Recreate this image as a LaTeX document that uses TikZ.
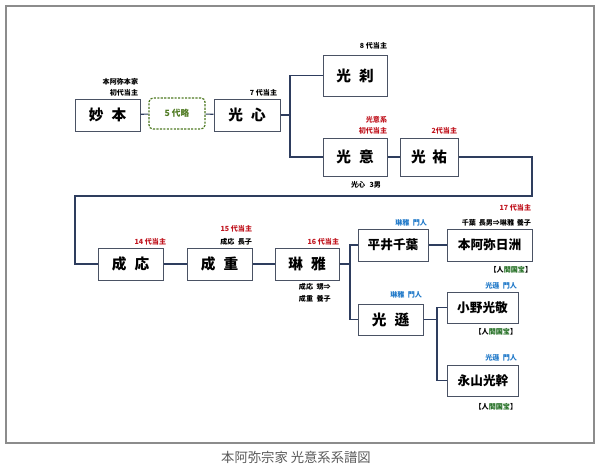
\documentclass[tikz,border=0pt]{standalone}
\usepackage{fontspec}
\newfontfamily\jp{Noto Sans CJK JP}
\usetikzlibrary{positioning}
\definecolor{framec}{HTML}{8C8C8C}
\definecolor{boxc}{HTML}{4A5264}
\definecolor{linkc}{HTML}{2E3D5E}
\definecolor{redc}{HTML}{C0141E}
\definecolor{bluec}{HTML}{1F78C8}
\definecolor{greenc}{HTML}{1E6B1E}
\definecolor{olivec}{HTML}{4F7A22}
\definecolor{capc}{HTML}{5A5A5A}
\newcommand{\kokuho}{【人\textcolor{greenc}{間国宝}】}

\begin{document}
\begin{tikzpicture}[x=0.75pt,y=0.75pt,yscale=-1,xscale=1,
    box/.style={draw=boxc, fill=white, line width=0.75pt, inner sep=0pt, font=\jp\bfseries\fontsize{11}{11}\selectfont},
    wide/.style={box, font=\jp\bfseries\fontsize{9.5}{10}\selectfont},
    lab/.style={inner sep=0.5pt, font=\jp\bfseries\fontsize{5.3}{6}\selectfont},
    link/.style={draw=linkc, line width=0.8pt}]
\useasboundingbox (0,0) rectangle (600,468);

%Shape: Frame
\draw [framec, line width=1.2pt] (6,6) rectangle (594,443);
% Text Node
\node (caption) at (296,457) [font=\jp\fontsize{10}{10}\selectfont, text=capc] {本阿弥宗家 光意系系譜図};

%Shape: Rectangle (top row)
\node (myohon) at (107.5,115) [box, minimum width=48.75pt, minimum height=24pt] {妙\hspace{0.55em}本};
\node (ryaku) at (177,113.5) [draw=olivec, dash pattern=on 1.6pt off 1pt, rounded corners=3pt, line width=0.9pt, minimum width=42pt, minimum height=23.25pt, inner sep=0pt, text=olivec, font=\jp\bfseries\fontsize{6.5}{7}\selectfont] {5 代略};
\node (koshin) at (247,115) [box, minimum width=49.5pt, minimum height=24pt] {光\hspace{0.55em}心};
\node (kosatsu) at (355,75.5) [box, minimum width=48pt, minimum height=30.75pt] {光\hspace{0.55em}刹};
\node (koi) at (355,157) [box, minimum width=48pt, minimum height=28.5pt] {光\hspace{0.55em}意};
\node (koyu) at (429,157) [box, minimum width=43.5pt, minimum height=28.5pt] {光\hspace{0.45em}祐};

%Shape: Rectangle (lower rows)
\node (seio) at (130.5,264) [box, minimum width=48.75pt, minimum height=24pt] {成\hspace{0.55em}応};
\node (seiju) at (219.5,264) [box, minimum width=48.75pt, minimum height=24pt] {成\hspace{0.55em}重};
\node (ringa) at (307,264) [box, minimum width=48pt, minimum height=24pt] {琳\hspace{0.55em}雅};
\node (hirai) at (393,245) [wide, minimum width=52.5pt, minimum height=24pt] {平井千葉};
\node (nisshu) at (489.5,245) [wide, minimum width=63.75pt, minimum height=24pt] {本阿弥日洲};
\node (kosen) at (390.5,319.5) [box, minimum width=48.75pt, minimum height=23.25pt] {光\hspace{0.55em}遜};
\node (ono) at (482.5,307.5) [wide, minimum width=53.25pt, minimum height=23.25pt] {小野光敬};
\node (nagayama) at (483,380.5) [wide, minimum width=53.25pt, minimum height=23.25pt] {永山光幹};

% Text Node
\node (l1) at (139,82) [lab, anchor=east] {本阿弥本家};
\node (l2) at (139,93) [lab, anchor=east] {初代当主};
\node (l3) at (278,93) [lab, anchor=east] {7 代当主};
\node (l4) at (388,46) [lab, anchor=east] {8 代当主};
\node (l5) at (388,120) [lab, anchor=east, text=redc] {光意系};
\node (l6) at (388,131) [lab, anchor=east, text=redc] {初代当主};
\node (l7) at (366,185) [lab] {光心\hspace{0.6em}3男};
\node (l8) at (458,131) [lab, anchor=east, text=redc] {2代当主};
\node (l9) at (167,242) [lab, anchor=east, text=redc] {14 代当主};
\node (l10) at (253,229) [lab, anchor=east, text=redc] {15 代当主};
\node (l11) at (253,242) [lab, anchor=east] {成応\hspace{0.5em}長子};
\node (l12) at (340,242) [lab, anchor=east, text=redc] {16 代当主};
\node (l13) at (298,287) [lab, anchor=west] {成応\hspace{0.5em}甥⇒};
\node (l14) at (298,299) [lab, anchor=west] {成重\hspace{0.5em}養子};
\node (l15) at (428,223) [lab, anchor=east, text=bluec] {琳雅\hspace{0.5em}門人};
\node (l16) at (532,208) [lab, anchor=east, text=redc] {17 代当主};
\node (l17) at (532,223) [lab, anchor=east] {千葉\hspace{0.4em}長男⇒琳雅\hspace{0.4em}養子};
\node (l18) at (533,270) [lab, anchor=east] {\kokuho};
\node (l19) at (423,295) [lab, anchor=east, text=bluec] {琳雅\hspace{0.5em}門人};
\node (l20) at (518,286) [lab, anchor=east, text=bluec] {光遜\hspace{0.5em}門人};
\node (l21) at (518,332) [lab, anchor=east] {\kokuho};
\node (l22) at (518,358) [lab, anchor=east, text=bluec] {光遜\hspace{0.5em}門人};
\node (l23) at (518,407) [lab, anchor=east] {\kokuho};

% Connectors
\coordinate (sbr) at (290,0);
\coordinate (turnA) at (532,196);
\coordinate (turnB) at (75,196);
\coordinate (rbr) at (350,0);
\coordinate (kbr) at (437,0);
\draw [link] (myohon) -- (ryaku);
\draw [link] (ryaku) -- (koshin);
\draw [link] (koshin.east) -- (koshin.east -| sbr);
\draw [link] (kosatsu.west) -- (kosatsu.west -| sbr) |- (koi.west);
\draw [link] (koi) -- (koyu);
\draw [link] (koyu.east) -| (turnA) -- (turnB) |- (seio.west);
\draw [link] (seio) -- (seiju);
\draw [link] (seiju) -- (ringa);
\draw [link] (ringa.east) -- (ringa.east -| rbr);
\draw [link] (hirai.west) -- (hirai.west -| rbr) |- (kosen.west);
\draw [link] (hirai) -- (nisshu);
\draw [link] (kosen.east) -- (kosen.east -| kbr);
\draw [link] (ono.west) -- (ono.west -| kbr) |- (nagayama.west);

\end{tikzpicture}
\end{document}
